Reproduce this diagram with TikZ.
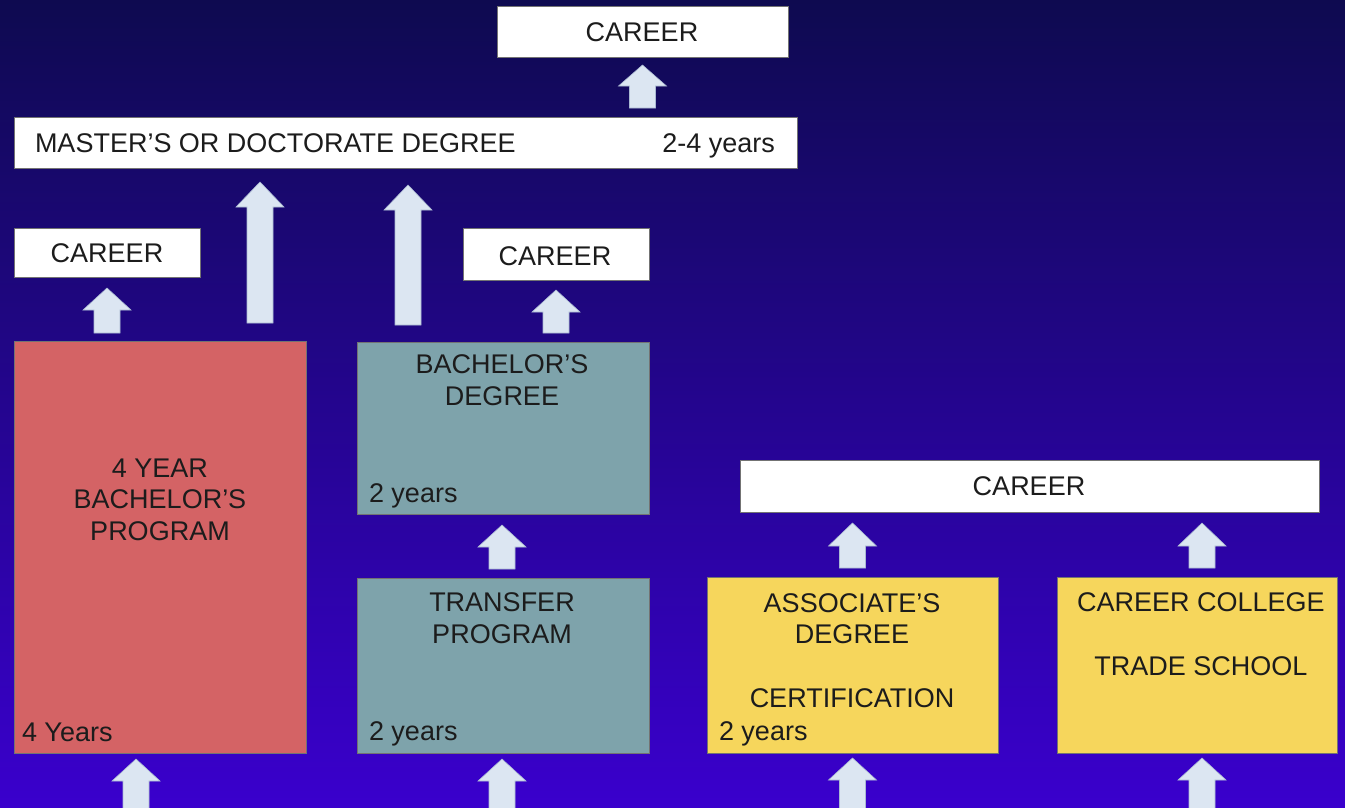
\documentclass[tikz,border=0pt]{standalone}
\usepackage{fontspec}
\setmainfont{Liberation Sans}
\usetikzlibrary{calc}
\definecolor{bgtop}{RGB}{14,10,80}
\definecolor{bgbot}{RGB}{58,0,205}
\definecolor{redbox}{RGB}{212,99,101}
\definecolor{tealbox}{RGB}{126,163,171}
\definecolor{yelbox}{RGB}{246,214,92}
\definecolor{arrfill}{RGB}{220,230,242}
\definecolor{arrline}{RGB}{170,185,210}
\definecolor{txtcol}{RGB}{28,28,28}
\newcommand\blockarrow[3]{%
  \path[blockarr] let \p1=(#1), \p2=(#2) in
    (\x1-13pt,\y1) -- (\x1-13pt,\y2-#3) -- (\x1-24pt,\y2-#3) -- (\x1,\y2)
    -- (\x1+24pt,\y2-#3) -- (\x1+13pt,\y2-#3) -- (\x1+13pt,\y1) -- cycle;}
\tikzset{
  box/.style={draw=black!55, line width=0.8pt, inner sep=0pt, outer sep=0pt, anchor=north west},
  whitebox/.style={box, fill=white},
  redb/.style={box, fill=redbox},
  tealb/.style={box, fill=tealbox},
  yelb/.style={box, fill=yelbox},
  lbl/.style={text=txtcol, font=\fontsize{27}{31.5}\selectfont, inner sep=0pt, outer sep=0pt, align=center, anchor=base},
  lbll/.style={lbl, anchor=base west},
  lblr/.style={lbl, anchor=base east},
  blockarr/.style={fill=arrfill, draw=arrline, line width=0.6pt},
}
\begin{document}
\begin{tikzpicture}[x=1pt,y=-1pt]
\useasboundingbox (0,0) rectangle (1345,807);
\shade[top color=bgtop, bottom color=bgbot] (0,0) rectangle (1345,807);

% boxes
\node[whitebox, minimum width=291pt, minimum height=51pt] (career1) at (497,6) {};
\node[whitebox, minimum width=783pt, minimum height=51pt] (master) at (14,117) {};
\node[whitebox, minimum width=186pt, minimum height=49pt] (career2) at (14,228) {};
\node[whitebox, minimum width=186pt, minimum height=52pt] (career3) at (463,228) {};
\node[redb, minimum width=292pt, minimum height=412pt] (fouryear) at (14,341) {};
\node[tealb, minimum width=292pt, minimum height=172pt] (bachelor) at (357,342) {};
\node[tealb, minimum width=292pt, minimum height=175pt] (transfer) at (357,578) {};
\node[whitebox, minimum width=579pt, minimum height=52pt] (career4) at (740,460) {};
\node[yelb, minimum width=291pt, minimum height=176pt] (assoc) at (707,577) {};
\node[yelb, minimum width=280pt, minimum height=176pt] (trade) at (1057,577) {};

% texts (multi-line nodes: base = baseline of the last line)
\node[lbl] (t1) at (642,41) {CAREER};
\node[lbll] (t2) at (35,152) {MASTER’S OR DOCTORATE DEGREE};
\node[lblr] (t3) at (775,152) {2-4 years};
\node[lbl] (t4) at (107,262) {CAREER};
\node[lbl] (t5) at (555,265) {CAREER};
\node[lbl] (t6) at (160,540) {4 YEAR\\BACHELOR’S\\PROGRAM};
\node[lbll] (t7) at (22,741) {4 Years};
\node[lbl] (t8) at (502,405) {BACHELOR’S\\DEGREE};
\node[lbll] (t9) at (369,502) {2 years};
\node[lbl] (t10) at (502,643) {TRANSFER\\PROGRAM};
\node[lbll] (t11) at (369,740) {2 years};
\node[lbl] (t12) at (1029,495) {CAREER};
\node[lbl] (t13) at (852,707) {ASSOCIATE’S\\DEGREE\\[32pt]CERTIFICATION};
\node[lbll] (t14) at (719,740) {2 years};
\node[lbl] (t15) at (1201,675) {CAREER COLLEGE\\[32pt]TRADE SCHOOL};

% arrow end points
\coordinate (a1s) at ($(master.north -| career1.south)+(0,-9)$);
\coordinate (a1e) at ($(career1.south)+(0,8)$);
\coordinate (a2s) at ($(fouryear.north)+(100,-18)$);
\coordinate (a2e) at ($(master.south -| a2s)+(0,14)$);
\coordinate (a3s) at ($(bachelor.north)+(-95,-17)$);
\coordinate (a3e) at ($(master.south -| a3s)+(0,17)$);
\coordinate (a4s) at ($(fouryear.north -| career2.south)+(0,-8)$);
\coordinate (a4e) at ($(career2.south)+(0,11)$);
\coordinate (a5s) at ($(bachelor.north -| career3.south)+(0,-9)$);
\coordinate (a5e) at ($(career3.south)+(0,10)$);
\coordinate (a6s) at ($(transfer.north)+(-1,-9)$);
\coordinate (a6e) at ($(bachelor.south)+(-1,11)$);
\coordinate (a7s) at ($(assoc.north)+(0,-9)$);
\coordinate (a7e) at ($(career4.south -| a7s)+(0,11)$);
\coordinate (a8s) at ($(trade.north)+(5,-9)$);
\coordinate (a8e) at ($(career4.south -| a8s)+(0,11)$);
\coordinate (b1s) at ($(fouryear.south)+(-24,60)$);
\coordinate (b1e) at ($(fouryear.south)+(-24,6)$);
\coordinate (b2s) at ($(transfer.south)+(-1,60)$);
\coordinate (b2e) at ($(transfer.south)+(-1,6)$);
\coordinate (b3s) at ($(assoc.south)+(0,60)$);
\coordinate (b3e) at ($(assoc.south)+(0,5)$);
\coordinate (b4s) at ($(trade.south)+(5,60)$);
\coordinate (b4e) at ($(trade.south)+(5,5)$);

\begin{scope}
\clip (0,0) rectangle (1345,807);
\blockarrow{a1s}{a1e}{21pt}
\blockarrow{a2s}{a2e}{25pt}
\blockarrow{a3s}{a3e}{25pt}
\blockarrow{a4s}{a4e}{22pt}
\blockarrow{a5s}{a5e}{22pt}
\blockarrow{a6s}{a6e}{22pt}
\blockarrow{a7s}{a7e}{23pt}
\blockarrow{a8s}{a8e}{23pt}
\blockarrow{b1s}{b1e}{22pt}
\blockarrow{b2s}{b2e}{22pt}
\blockarrow{b3s}{b3e}{22pt}
\blockarrow{b4s}{b4e}{22pt}
\end{scope}
\end{tikzpicture}
\end{document}
